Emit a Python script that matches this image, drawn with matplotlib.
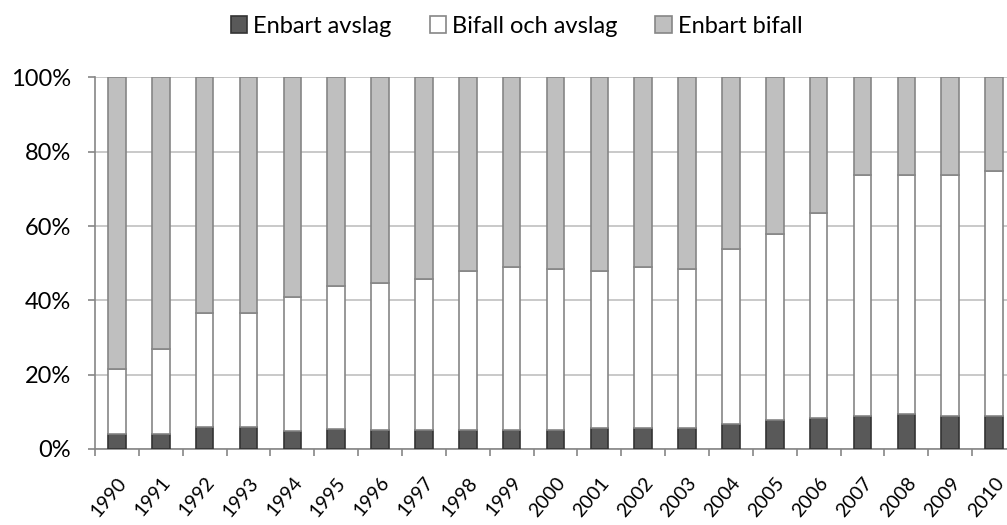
import matplotlib
matplotlib.use('Agg')
import matplotlib.pyplot as plt
from matplotlib.ticker import FixedLocator, PercentFormatter

years = [str(y) for y in range(1990, 2011)]
# share of cases (%)
enbart_avslag = [4.0, 4.0, 6.0, 5.9, 4.9, 5.5, 5.1, 5.1, 5.1, 5.1, 5.1,
                 5.6, 5.6, 5.6, 6.6, 7.7, 8.3, 8.8, 9.3, 8.8, 8.8]
# top of the white segment (cumulative)
upto_bifall_avslag = [21.5, 27.0, 36.5, 36.5, 40.8, 44.0, 44.6, 45.8, 48.0, 48.9, 48.4,
                      48.0, 49.0, 48.4, 53.8, 58.0, 63.4, 73.7, 73.7, 73.7, 74.8]
bifall_och_avslag = [t - a for t, a in zip(upto_bifall_avslag, enbart_avslag)]
enbart_bifall = [100 - t for t in upto_bifall_avslag]

plt.rcParams['font.family'] = ['Lato', 'DejaVu Sans']
plt.rcParams['font.size'] = 17

fig = plt.figure(figsize=(10.07, 5.25), dpi=100)
ax = fig.add_axes([0.0943, 0.1448, 0.9146, 0.7076])

x = list(range(len(years)))
w = 0.4
edge = '#868686'
ax.bar(x, enbart_avslag, w, color='#595959', edgecolor='#333333', linewidth=1.2,
       label='Enbart avslag', zorder=3)
ax.bar(x, bifall_och_avslag, w, bottom=enbart_avslag, color='white', edgecolor=edge,
       linewidth=1.2, label='Bifall och avslag', zorder=3)
ax.bar(x, enbart_bifall, w, bottom=upto_bifall_avslag, color='#bfbfbf', edgecolor=edge,
       linewidth=1.2, label='Enbart bifall', zorder=3)

ax.set_xlim(-0.5, len(years) - 0.5)
ax.set_ylim(0, 100)
ax.yaxis.set_major_locator(FixedLocator([0, 20, 40, 60, 80, 100]))
ax.yaxis.set_major_formatter(PercentFormatter(decimals=0))
ax.grid(axis='y', color='#c0c0c0', linewidth=1.2, zorder=0)

ax.set_xticks(x)
ax.set_xticklabels(years, rotation=50, ha='right', va='top', rotation_mode='anchor',
                   fontsize=14)
ax.set_xticks([i - 0.5 for i in range(len(years) + 1)], minor=True)
ax.tick_params(axis='x', which='major', length=0, pad=18)
ax.tick_params(axis='x', which='minor', length=5, color=edge, width=1.2)
ax.tick_params(axis='y', length=5, color=edge, width=1.2, pad=12)

for s in ['top', 'right']:
    ax.spines[s].set_visible(False)
for s in ['left', 'bottom']:
    ax.spines[s].set_color(edge)
    ax.spines[s].set_linewidth(1.2)

fig.legend(loc='upper center', bbox_to_anchor=(0.513, 1.01), ncol=3, frameon=False,
           handlelength=0.7, handleheight=0.7, handletextpad=0.25, columnspacing=1.6)

fig.savefig('out.png', dpi=100)
